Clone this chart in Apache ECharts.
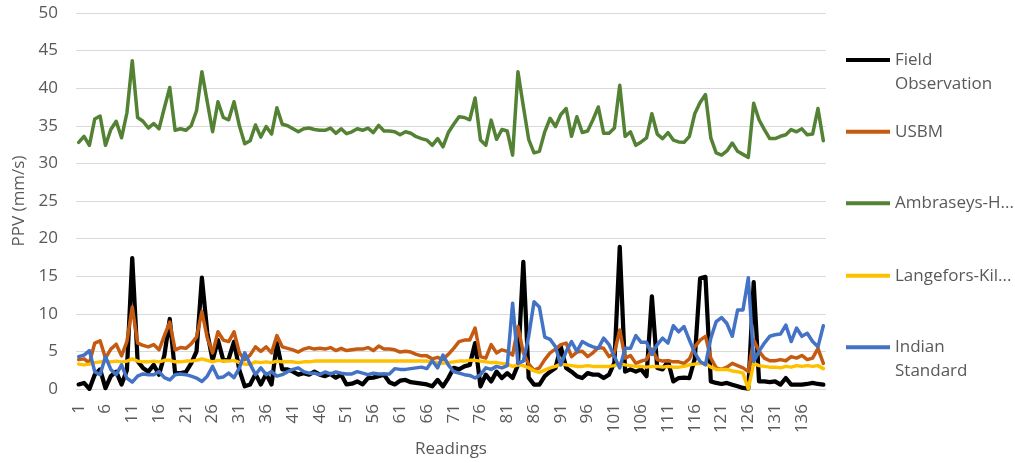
<!DOCTYPE html>
<html>
<head>
<meta charset="utf-8">
<script src="https://cdn.jsdelivr.net/npm/echarts@6/dist/echarts.min.js"></script>
<style>
html,body{margin:0;padding:0;background:#fff;}
#chart{width:1015px;height:463px;}
</style>
</head>
<body>
<div id="chart"></div>
<script>
// Readings 1..140
const categories = [];
for (let i = 1; i <= 140; i++) categories.push(String(i));

const seriesNames = ['Field Observation', 'USBM', 'Ambraseys-Hendron', 'Langefors-Kihlstrom', 'Indian Standard'];
const legendLabels = [['Field', 'Observation'], ['USBM'], ['Ambraseys-H...'], ['Langefors-Kil...'], ['Indian', 'Standard']];

const fieldObservation = [
  0.6, 0.8, 0.0, 1.9, 2.6, 0.1, 1.7, 2.3, 0.6, 2.5,
  17.4, 3.7, 2.8, 2.3, 3.2, 1.9, 4.5, 9.3, 2.1, 2.1,
  2.25, 3.4, 5.0, 14.8, 7.5, 3.8, 6.5, 3.8, 4.0, 6.3,
  2.5, 0.35, 0.6, 2.0, 0.6, 2.0, 0.6, 6.1, 2.6, 2.6,
  2.3, 1.9, 2.1, 1.9, 2.3, 1.9, 1.7, 2.0, 1.5, 1.9,
  0.6, 0.7, 1.0, 0.6, 1.45, 1.5, 1.7, 1.9, 0.9, 0.6,
  1.1, 1.2, 0.9, 0.8, 0.7, 0.6, 0.35, 1.2, 0.35, 1.45,
  2.8, 2.6, 3.0, 3.2, 6.1, 0.35, 1.9, 1.0, 2.3, 1.45,
  2.1, 1.45, 3.2, 16.9, 1.5, 0.57, 0.57, 1.7, 2.3, 2.8,
  5.6, 2.8, 2.3, 1.7, 1.45, 2.1, 1.9, 1.9, 1.45, 1.9,
  3.5, 18.9, 2.3, 2.6, 2.3, 2.6, 1.7, 12.3, 2.8, 2.6,
  3.7, 1.0, 1.45, 1.5, 1.45, 4.0, 14.7, 14.9, 1.0, 0.8,
  0.66, 0.8, 0.57, 0.35, 0.13, 0.05, 14.2, 1.0, 1.0, 0.9,
  1.0, 0.57, 1.45, 0.57, 0.57, 0.57, 0.66, 0.8, 0.66, 0.57
];

const usbm = [
  3.9, 4.0, 3.45, 6.1, 6.4, 4.1, 5.3, 5.95, 4.4, 6.3,
  10.9, 6.1, 5.8, 5.6, 5.9, 5.2, 7.1, 8.9, 5.2, 5.5,
  5.4, 6.0, 6.9, 10.3, 6.8, 4.8, 7.6, 6.5, 6.3, 7.6,
  4.8, 3.9, 4.5, 5.6, 5.0, 5.6, 4.8, 7.1, 5.6, 5.4,
  5.2, 4.9, 5.3, 5.5, 5.3, 5.4, 5.3, 5.5, 5.1, 5.4,
  5.1, 5.2, 5.3, 5.3, 5.5, 5.1, 5.7, 5.3, 5.3, 5.2,
  4.9, 5.0, 4.9, 4.6, 4.4, 4.4, 4.0, 4.2, 3.9, 4.6,
  5.4, 6.3, 6.5, 6.5, 8.1, 4.3, 4.1, 5.9, 4.8, 5.2,
  5.0, 4.5, 8.3, 4.8, 3.3, 2.5, 2.8, 3.9, 4.8, 5.3,
  5.9, 6.1, 4.3, 4.9, 5.0, 4.3, 4.8, 5.5, 5.4, 4.3,
  4.8, 7.85, 4.1, 4.45, 3.4, 3.7, 3.9, 5.3, 3.9, 3.7,
  3.75, 3.6, 3.6, 3.4, 4.0, 5.6, 6.5, 7.0, 4.1, 2.8,
  2.6, 2.9, 3.4, 3.1, 2.8, 2.3, 6.5, 5.0, 4.1, 3.75,
  3.75, 3.9, 3.75, 4.3, 4.1, 4.45, 3.9, 4.1, 5.4, 3.4
];

const ambraseysHendron = [
  32.8, 33.6, 32.4, 35.9, 36.3, 32.4, 34.5, 35.6, 33.4, 36.7,
  43.65, 36.1, 35.6, 34.7, 35.3, 34.6, 37.4, 40.1, 34.4, 34.6,
  34.4, 35.0, 37.0, 42.2, 38.2, 34.2, 38.2, 36.1, 35.8, 38.2,
  35.0, 32.6, 33.0, 35.1, 33.5, 34.9, 33.9, 37.4, 35.2, 35.0,
  34.6, 34.2, 34.6, 34.7, 34.5, 34.4, 34.4, 34.7, 34.0, 34.6,
  33.95, 34.2, 34.6, 34.4, 34.7, 34.1, 35.05, 34.3, 34.3, 34.2,
  33.8, 34.2, 34.0, 33.55, 33.3, 33.1, 32.4, 33.3, 32.2, 34.1,
  35.2, 36.2, 36.1, 35.8, 38.7, 33.1, 32.4, 35.75, 33.2, 34.5,
  34.3, 31.1, 42.2, 37.6, 33.2, 31.4, 31.6, 34.2, 36.0, 34.9,
  36.5, 37.3, 33.6, 36.2, 34.1, 34.3, 35.8, 37.5, 34.0, 34.0,
  34.7, 40.4, 33.6, 34.2, 32.4, 32.85, 33.4, 36.6, 33.9, 33.3,
  34.1, 33.1, 32.85, 32.8, 33.6, 36.6, 38.1, 39.15, 33.4, 31.4,
  31.1, 31.65, 32.7, 31.6, 31.2, 30.8, 38.0, 35.8, 34.5, 33.3,
  33.3, 33.6, 33.8, 34.5, 34.2, 34.6, 33.8, 33.9, 37.3, 33.0
];

const langeforsKihlstrom = [
  3.3, 3.2, 3.3, 3.5, 3.6, 3.7, 3.6, 3.7, 3.6, 3.7,
  4.0, 3.7, 3.6, 3.6, 3.7, 3.6, 3.8, 3.8, 3.6, 3.6,
  3.7, 3.7, 3.8, 4.0, 3.8, 3.6, 3.8, 3.7, 3.7, 3.8,
  3.5, 3.3, 3.3, 3.6, 3.5, 3.6, 3.5, 3.7, 3.6, 3.6,
  3.6, 3.5, 3.6, 3.6, 3.7, 3.7, 3.7, 3.7, 3.7, 3.7,
  3.7, 3.7, 3.7, 3.7, 3.7, 3.7, 3.7, 3.7, 3.7, 3.7,
  3.7, 3.7, 3.7, 3.7, 3.7, 3.7, 3.6, 3.5, 3.4, 3.5,
  3.6, 3.7, 3.7, 3.8, 3.8, 3.7, 3.6, 3.5, 3.5, 3.4,
  3.3, 3.0, 3.2, 3.1, 2.8, 2.4, 2.2, 2.5, 2.8, 3.0,
  3.3, 3.2, 3.1, 3.0, 3.0, 3.1, 3.0, 3.0, 3.0, 3.0,
  3.1, 3.4, 3.2, 3.1, 3.0, 3.0, 2.9, 3.0, 3.0, 2.9,
  3.0, 2.9, 2.9, 3.0, 3.2, 3.3, 3.4, 3.4, 2.9, 2.6,
  2.6, 2.6, 2.4, 2.3, 2.1, 0.0, 3.4, 3.1, 3.0, 2.9,
  2.9, 2.8, 3.0, 2.9, 3.1, 3.0, 3.1, 3.0, 3.1, 2.7
];

const indianStandard = [
  4.3, 4.5, 5.1, 2.3, 1.9, 4.3, 2.6, 1.9, 3.2, 1.45,
  0.9, 1.7, 2.0, 1.9, 1.9, 2.3, 1.5, 1.2, 1.9, 2.0,
  1.9, 1.7, 1.45, 1.0, 1.7, 3.0, 1.5, 1.6, 2.1, 1.5,
  2.8, 4.8, 3.3, 1.9, 2.8, 1.9, 2.3, 1.7, 1.9, 2.3,
  2.6, 2.8, 2.3, 2.1, 2.1, 1.9, 2.25, 2.0, 2.25, 2.1,
  2.0, 2.0, 2.3, 2.1, 1.9, 2.1, 2.0, 2.0, 2.0, 2.7,
  2.6, 2.6, 2.7, 2.8, 2.9, 2.7, 3.75, 2.8, 4.5, 3.2,
  2.3, 2.1, 1.9, 1.8, 1.45, 1.9, 2.8, 2.6, 3.0, 2.8,
  3.1, 11.4, 3.4, 3.7, 7.0, 11.6, 10.9, 6.9, 6.6, 5.6,
  3.2, 5.0, 6.3, 5.0, 6.3, 5.9, 5.6, 5.4, 6.75, 5.9,
  4.3, 2.8, 5.4, 5.4, 7.1, 6.2, 6.2, 4.6, 5.9, 6.75,
  6.1, 8.4, 7.6, 8.3, 6.5, 4.8, 3.65, 3.2, 6.75, 8.95,
  9.5, 8.7, 7.0, 10.5, 10.5, 14.8, 3.65, 5.0, 6.1, 7.0,
  7.2, 7.3, 8.5, 6.3, 8.1, 7.0, 7.4, 6.3, 5.6, 8.4
];

const seriesData = [fieldObservation, usbm, ambraseysHendron, langeforsKihlstrom, indianStandard];
const seriesColors = ['#000000', '#C55A11', '#548235', '#FFC000', '#4472C4'];
const seriesWidths = [4.25, 3.5, 3.5, 3.5, 3.5];

const FONT = '"Open Sans", "Liberation Sans", sans-serif';
const TEXT_COLOR = '#595959';
const GRID_COLOR = '#D9D9D9';

const legendCenters = [60, 131.7, 203.3, 275.7, 347.3];
const LH = 24;
const legends = seriesNames.map((name, k) => {
  const lines = legendLabels[k];
  const twoLine = lines.length > 1;
  // a blank first line keeps the icon level with the first text line
  const text = twoLine ? ' \n' + lines.join('\n') : lines[0];
  return {
    orient: 'vertical',
    left: 846,
    top: legendCenters[k] - (twoLine ? 1.5 * LH : 0.5 * LH),
    padding: 0,
    itemWidth: 44,
    itemHeight: 4,
    icon: 'rect',
    selectedMode: false,
    data: [name],
    formatter: () => text,
    textStyle: {fontFamily: FONT, fontSize: 17, color: TEXT_COLOR, lineHeight: LH}
  };
});

const chart = echarts.init(document.getElementById('chart'), null, {renderer: 'canvas'});
chart.setOption({
  animation: false,
  backgroundColor: '#ffffff',
  color: seriesColors,
  grid: {left: 76, right: 189, top: 13, bottom: 72, containLabel: false},
  legend: legends,
  xAxis: {
    type: 'category',
    boundaryGap: true,
    data: categories,
    name: 'Readings',
    nameLocation: 'middle',
    nameGap: 52,
    nameTextStyle: {fontFamily: FONT, fontSize: 17, color: TEXT_COLOR},
    axisLine: {lineStyle: {color: GRID_COLOR, width: 1}},
    axisTick: {show: false},
    axisLabel: {
      interval: 4, rotate: 90, margin: 15,
      padding: [8, 0, 0, 0],
      fontFamily: FONT, fontSize: 17, color: TEXT_COLOR
    },
    splitLine: {show: false}
  },
  yAxis: {
    type: 'value',
    min: 0, max: 50, interval: 5,
    name: 'PPV (mm/s)',
    nameLocation: 'middle',
    nameGap: 44,
    nameTextStyle: {fontFamily: FONT, fontSize: 17, color: TEXT_COLOR},
    axisLine: {show: false},
    axisTick: {show: false},
    axisLabel: {margin: 18, fontFamily: FONT, fontSize: 17, color: TEXT_COLOR},
    splitLine: {lineStyle: {color: GRID_COLOR, width: 1}}
  },
  series: seriesNames.map((name, k) => ({
    name: name,
    type: 'line',
    data: seriesData[k],
    symbol: 'none',
    smooth: false,
    lineStyle: {color: seriesColors[k], width: seriesWidths[k], join: 'round', cap: 'round'},
    itemStyle: {color: seriesColors[k]},
    emphasis: {disabled: true}
  }))
});
</script>
</body>
</html>
